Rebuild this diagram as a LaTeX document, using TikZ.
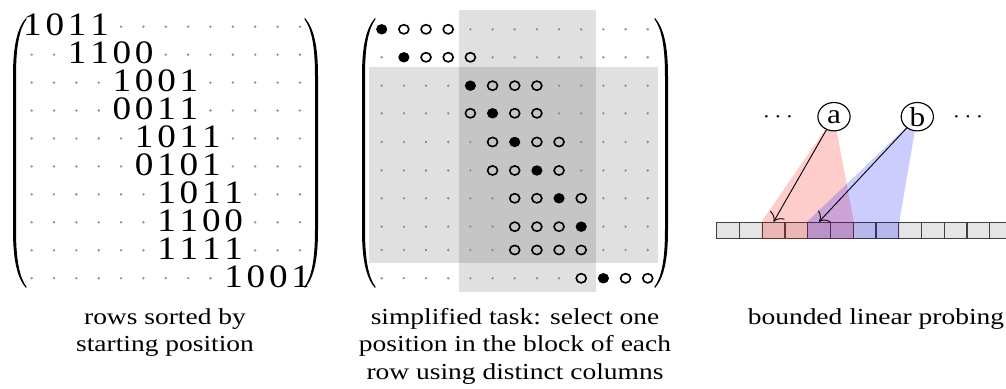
\documentclass[tikz,border=0pt]{standalone}
\usepackage{fontspec}
\setmainfont{Liberation Serif}
\usetikzlibrary{arrows.meta}

\begin{document}
\def\px{0.4367pt}
\begin{tikzpicture}[x=\px, y=-\px,
    stretched/.style={xscale=1.135},
    digit/.style={stretched, inner sep=0, anchor=base, font=\fontsize{14.3}{17}\selectfont},
    captxt/.style={xscale=1.2, inner sep=0, anchor=north, align=center, font=\fontsize{10}{12}\selectfont},
    cell/.style={draw=black!75, fill=black!10, line width=0.5pt, minimum width=22.75*\px, minimum height=16*\px, inner sep=0},
    keynode/.style={stretched, circle, draw, fill=white, line width=0.5pt, minimum size=12.4pt, inner sep=0, font=\large},
    spot/.style={fill=black!45},
    lpar/.pic={
      \fill (6.8,-135) .. controls (-2,-125) and (-6.2,-107) .. (-6.2,-77) -- (-6.2,77)
        .. controls (-6.2,107) and (-2,125) .. (6.8,135) -- (7.4,134)
        .. controls (0,124) and (-3.2,106) .. (-3.2,77) -- (-3.2,-77)
        .. controls (-3.2,-106) and (0,-124) .. (7.4,-134) -- cycle;
    },
  ]
  \useasboundingbox (0,0) rectangle (1006,389);

  % rows sorted by start
  \pic at (19.2,153) {lpar};
  \pic[xscale=-1] at (311.8,153) {lpar};
  \foreach \r/\s/\da/\db/\dc/\dd in {0/0/1/0/1/1, 1/2/1/1/0/0, 2/4/1/0/0/1, 3/4/0/0/1/1, 4/5/1/0/1/1,
                                    5/5/0/1/0/1, 6/6/1/0/1/1, 7/6/1/1/0/0, 8/6/1/1/1/1, 9/9/1/0/0/1} {
    \pgfmathsetmacro\y{26.7+27.95*\r}
    \foreach \j in {0,...,12} {
      \pgfmathsetmacro\x{31.7+22.35*\j}
      \ifnum\j<\s \fill[spot] (\x,\y) circle[radius=1.3];\fi
      \ifnum\j>\numexpr\s+3\relax \fill[spot] (\x,\y) circle[radius=1.3];\fi
    }
    \foreach \v [count=\k from 0] in {\da,\db,\dc,\dd}
      \node[digit] (d\r-\k) at ({32.5+22.35*(\s+\k)},\y+8.8) {\v};
  }

  % simplified task
  \fill[black, fill opacity=0.12] (459,10) rectangle (596,292);
  \fill[black, fill opacity=0.12] (369,66.7) rectangle (658,263.3);
  \pic at (368.2,153) {lpar};
  \pic[xscale=-1] at (661.8,153) {lpar};
  \foreach \r/\y/\s/\f in {0/29.3/0/0, 1/57.3/1/1, 2/85.7/4/4, 3/113.3/4/5, 4/142/5/6,
                          5/170.5/5/7, 6/198.3/6/8, 7/226.7/6/9, 8/250/6/-1, 9/278.3/9/10} {
    \foreach \j in {0,...,12} {
      \pgfmathsetmacro\x{381.7+22.17*\j}
      \ifnum\j<\s \fill[spot] (\x,\y) circle[radius=1.3];\else
        \ifnum\j>\numexpr\s+3\relax \fill[spot] (\x,\y) circle[radius=1.3];\else
          \ifnum\j=\f \fill (\x,\y) ellipse[x radius=5.6, y radius=5.2];\else
            \draw[line width=0.7pt] (\x,\y) ellipse[x radius=5, y radius=4.6];\fi\fi\fi
    }
  }

  % linear probing
  \foreach \k in {0,...,12}
    \node[cell] (c\k) at ({728.1+22.75*\k},230.3) {};
  \coordinate (pa) at (834,116.7);
  \coordinate (pb) at (917.3,116.7);
  \fill[red, fill opacity=0.2] (pa) -- (c2.north west) -- (c2.south west) -- (c5.south east) -- (c5.north east) -- cycle;
  \fill[blue, fill opacity=0.2] (pb) -- (c4.north west) -- (c4.south west) -- (c7.south east) -- (c7.north east) -- cycle;
  \node[keynode] (a) at (pa) {a};
  \node[keynode] (b) at (pb) {b};
  \node[stretched, anchor=base] (dotsL) at (778,122.4) {$\cdots$};
  \node[stretched, anchor=base] (dotsR) at (968,122.4) {$\cdots$};
  \draw[-{To[scale=1.4]}] (a) -- (c2.north);
  \draw[-{To[scale=1.4]}] (b) -- (c4.north);

  \node[captxt] (capRows) at (165,307.7) {rows sorted by\\starting position};
  \node[captxt] (capTask) at (515,307.7) {simplified task: select one\\position in the block of each\\row using distinct columns};
  \node[captxt] (capProbe) at (876,307.7) {bounded linear probing};
\end{tikzpicture}
\end{document}
